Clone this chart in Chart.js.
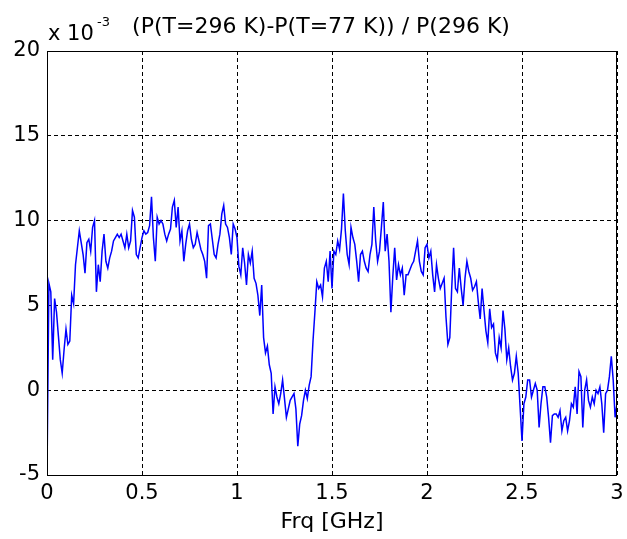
<!DOCTYPE html>
<html>
<head>
<meta charset="utf-8">
<script src="https://cdn.jsdelivr.net/npm/chart.js@4/dist/chart.umd.min.js"></script>
<style>
  html, body { margin: 0; padding: 0; background: #fff; }
</style>
</head>
<body>
<canvas id="ratioChart" width="627" height="539"></canvas>
<script>
// relative power difference, in units of 1e-3, sampled every 10 MHz from 0 to 3 GHz
const freqStep = 0.01;
const ratio = [
  -5, 6.3, 5.8, 1.8, 5.4, 4.6, 3.2, 1.8, 1.0, 2.4,
  3.6, 2.7, 2.9, 5.6, 5.1, 7.4, 8.4, 9.4, 8.7, 8.0,
  6.9, 8.7, 8.9, 8.2, 9.6, 10.0, 5.8, 7.4, 6.4, 8.2,
  9.2, 7.6, 7.2, 7.8, 8.2, 8.8, 9.0, 9.2, 9.0, 9.2,
  8.8, 8.4, 9.2, 8.4, 8.8, 10.6, 10.2, 8.0, 7.8, 8.4,
  9.0, 9.4, 9.2, 9.3, 9.7, 11.4, 9.0, 7.6, 10.2, 9.8,
  10.0, 9.8, 9.2, 8.8, 9.2, 9.5, 10.8, 11.2, 9.6, 10.8,
  8.8, 9.4, 7.6, 8.6, 9.4, 9.8, 8.9, 8.4, 8.6, 9.3,
  8.8, 8.3, 8.0, 7.6, 6.6, 9.7, 9.8, 8.9, 8.0, 7.8,
  8.6, 9.2, 10.4, 10.9, 9.8, 9.6, 9.0, 8.0, 9.8, 9.5,
  9.0, 7.3, 6.8, 8.4, 7.5, 6.2, 8.0, 7.5, 8.2, 6.6,
  6.3, 5.6, 4.4, 6.2, 3.1, 2.2, 2.6, 1.5, 1.0, -1.4,
  0.2, -0.4, -0.8, -0.2, 0.6, -0.5, -1.6, -1.1, -0.6, -0.4,
  -0.2, -1.1, -3.3, -2.0, -1.5, -0.6, 0.0, -0.5, 0.3, 0.8,
  2.9, 4.6, 6.4, 6.0, 6.2, 5.5, 7.2, 7.6, 6.4, 8.2,
  6.0, 8.2, 8.0, 8.8, 8.3, 9.5, 11.6, 9.4, 8.0, 7.4,
  9.6, 9.0, 8.6, 7.6, 6.4, 8.0, 8.2, 7.6, 7.2, 7.0,
  8.0, 8.6, 10.8, 8.8, 7.6, 8.2, 9.6, 11.1, 8.2, 9.2,
  7.6, 4.6, 6.7, 8.4, 6.5, 7.4, 6.8, 7.2, 5.6, 6.8,
  6.8, 7.1, 7.4, 7.6, 8.2, 8.8, 7.6, 7.0, 6.8, 8.4,
  8.6, 7.8, 8.2, 6.8, 5.8, 7.4, 6.6, 6.0, 6.3, 6.6,
  4.3, 2.7, 3.1, 6.0, 8.4, 6.0, 5.8, 7.2, 6.0, 5.0,
  6.6, 7.6, 7.0, 6.6, 5.9, 6.1, 6.4, 5.2, 4.2, 6.0,
  4.7, 3.5, 2.8, 4.8, 3.7, 3.9, 2.2, 1.8, 3.1, 2.5,
  4.7, 3.6, 1.8, 2.5, 1.4, 0.6, 1.0, 2.0, 1.0, -1.0,
  -3.0, -0.8, -0.4, 0.6, 0.6, -0.4, 0.0, 0.4, 0.0, -2.2,
  -0.8, 0.2, 0.2, -0.4, -1.6, -3.1, -1.5, -1.4, -1.4, -1.6,
  -1.2, -2.4, -1.8, -1.6, -2.4, -1.8, -0.8, -1.0, 0.2, -1.4,
  1.1, 0.8, -2.2, 0.0, 0.6, -0.6, -1.0, -0.4, -0.8, 0.0,
  -0.2, 0.2, -0.8, -2.5, -0.2, 0.0, 0.8, 2.0, 0.6, -1.6,
  -0.8
];

const xTicks = [0, 0.5, 1, 1.5, 2, 2.5, 3];
const yTicks = [-5, 0, 5, 10, 15, 20];
const titleText = '(P(T=296 K)-P(T=77 K)) / P(296 K)';
const xTitle = 'Frq [GHz]';

const points = ratio.map((v, i) => ({ x: i * freqStep, y: v }));

const face = "'DejaVu Sans', Arial, sans-serif";
const tickFont = { family: face, size: 21 };

// axes box plus the exponent note and title above the plot
const boxAndCaption = {
  id: 'boxAndCaption',
  afterDraw(chart) {
    const { ctx, chartArea: a } = chart;
    ctx.save();
    ctx.strokeStyle = '#000';
    ctx.lineWidth = 1;
    ctx.strokeRect(a.left + 0.5, a.top + 0.5, a.right - a.left - 1, a.bottom - a.top);

    ctx.fillStyle = '#000';
    ctx.textBaseline = 'alphabetic';
    ctx.textAlign = 'left';
    ctx.font = `21px ${face}`;
    ctx.fillText('x 10', 48, 40);
    ctx.font = `13px ${face}`;
    ctx.fillText('-3', 97, 26);

    ctx.font = `22px ${face}`;
    ctx.textAlign = 'center';
    ctx.fillText(titleText, 321, 33);
    ctx.restore();
  }
};

const ctx = document.getElementById('ratioChart').getContext('2d');

const ratioChart = new Chart(ctx, {
  type: 'line',
  data: {
    datasets: [{
      data: points,
      borderColor: '#0000ff',
      borderWidth: 1.5,
      pointRadius: 0,
      tension: 0,
      fill: false
    }]
  },
  options: {
    responsive: false,
    animation: false,
    layout: { padding: { top: 51, right: 10, left: 0, bottom: 0 } },
    plugins: {
      legend: { display: false },
      tooltip: { enabled: false }
    },
    scales: {
      x: {
        type: 'linear',
        min: 0,
        max: 3,
        afterBuildTicks: s => { s.ticks = xTicks.map(v => ({ value: v })); },
        afterFit: s => { s.height = 64; s.paddingLeft = 0; s.paddingRight = 0; },
        grid: { color: '#000', drawTicks: false },
        border: { display: false, dash: [4, 3] },
        ticks: {
          color: '#000',
          font: tickFont,
          padding: 6,
          maxRotation: 0,
          autoSkip: false,
          callback: v => String(v)
        },
        title: {
          display: true,
          text: xTitle,
          color: '#000',
          font: { family: face, size: 22 },
          padding: { top: 0, bottom: 4 }
        }
      },
      y: {
        min: -5,
        max: 20,
        afterBuildTicks: s => { s.ticks = yTicks.map(v => ({ value: v })); },
        afterFit: s => { s.width = 47; },
        grid: { color: '#000', drawTicks: false },
        border: { display: false, dash: [4, 3] },
        ticks: { color: '#000', font: tickFont, padding: 7 }
      }
    }
  },
  plugins: [boxAndCaption]
});
</script>
</body>
</html>
